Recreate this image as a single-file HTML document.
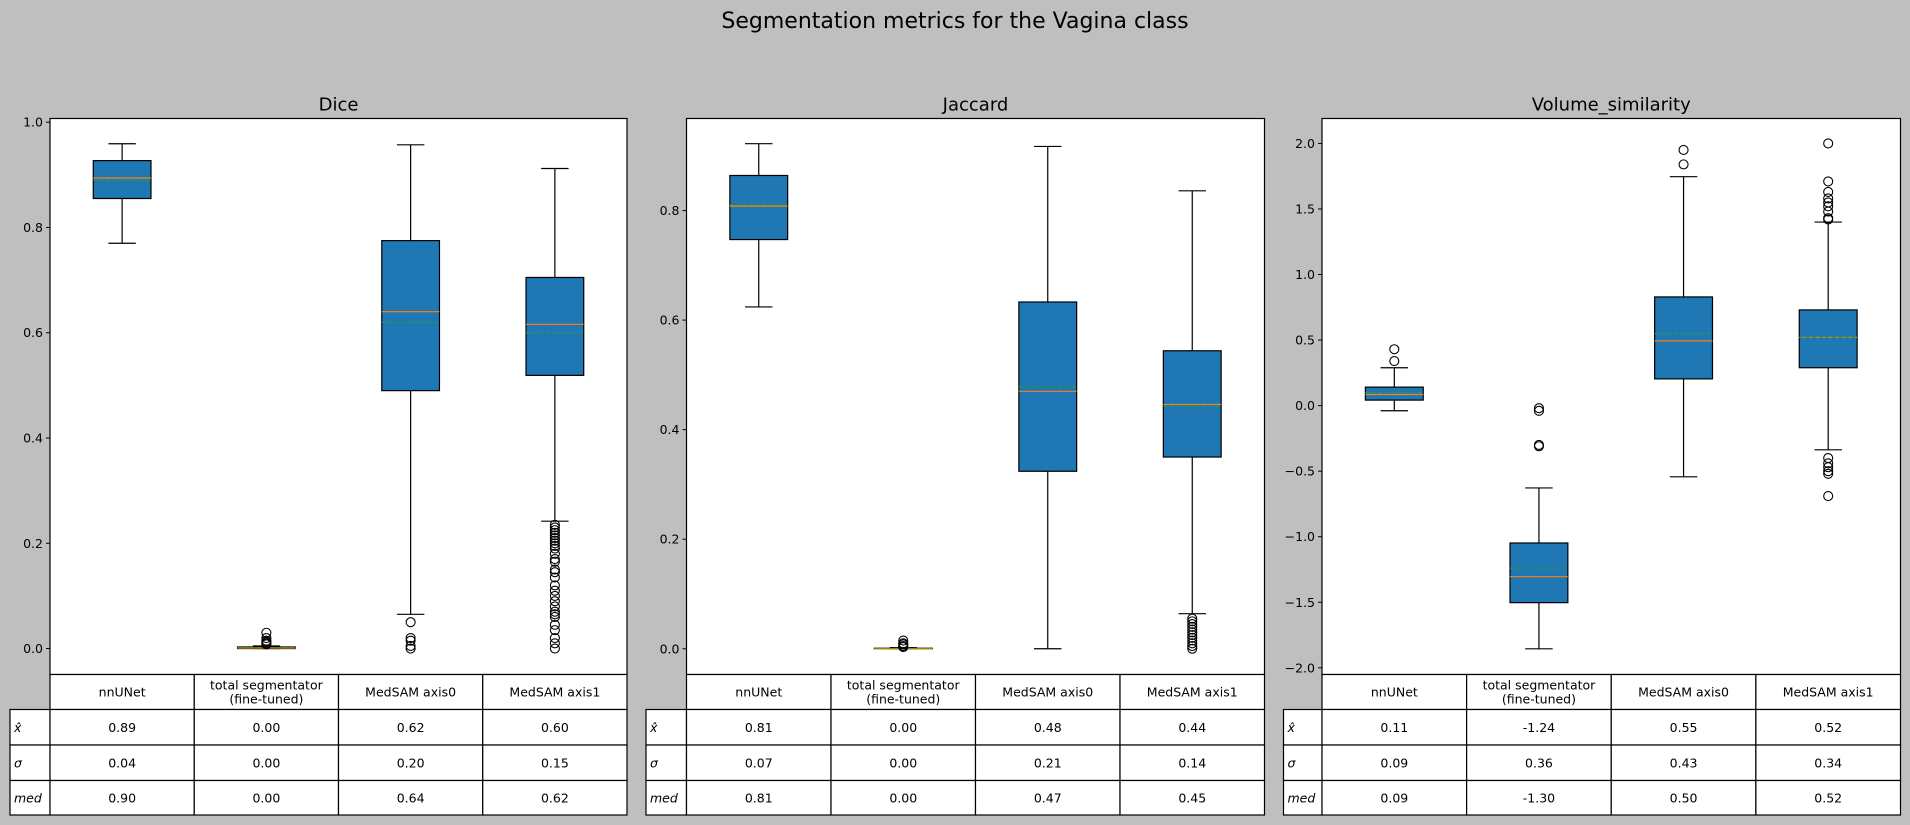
<!DOCTYPE html>
<html><head><meta charset="utf-8"><style>
html,body{margin:0;padding:0;background:#bfbfbf;}
svg{display:block;font-family:"DejaVu Sans","Liberation Sans",sans-serif;}
</style></head><body>
<svg id="fig" width="1910" height="825" xmlns="http://www.w3.org/2000/svg">
<rect x="0" y="0" width="1910" height="825" fill="#bfbfbf"/>
<text x="955" y="28" font-size="22" text-anchor="middle" fill="#000">Segmentation metrics for the Vagina class</text>
</svg>
<script>
const categories = ["nnUNet", "total segmentator\n(fine-tuned)", "MedSAM axis0", "MedSAM axis1"];
const panelTitles = ["Dice", "Jaccard", "Volume_similarity"];
// per panel: [lowWhisker, q1, median, q3, highWhisker, mean]
const diceStats = [[0.770,0.855,0.894,0.927,0.959,0.89],[0.0,0.0,0.001,0.003,0.005,0.002],[0.065,0.490,0.640,0.775,0.957,0.62],[0.242,0.519,0.616,0.705,0.912,0.60]];
const diceOutliers = [[],[0.03,0.02,0.015,0.012,0.01,0.008],[0.05,0.02,0.015,0.005,0.0],[0.235,0.23,0.225,0.22,0.215,0.21,0.205,0.2,0.195,0.19,0.18,0.17,0.165,0.15,0.145,0.135,0.12,0.11,0.1,0.09,0.08,0.07,0.065,0.06,0.045,0.035,0.02,0.01,0.0]];
const jacStats = [[0.624,0.747,0.808,0.864,0.922,0.81],[0.0,0.0,0.0,0.001,0.002,0.001],[0.0,0.324,0.470,0.633,0.917,0.478],[0.064,0.350,0.446,0.544,0.836,0.443]];
const jacOutliers = [[],[0.015,0.01,0.008,0.005,0.003],[],[0.055,0.05,0.045,0.04,0.035,0.03,0.025,0.02,0.015,0.01,0.005,0.0]];
const volStats = [[-0.039,0.042,0.085,0.141,0.289,0.10],[-1.855,-1.503,-1.305,-1.048,-0.628,-1.24],[-0.543,0.204,0.494,0.829,1.746,0.55],[-0.337,0.289,0.52,0.730,1.40,0.52]];
const volOutliers = [[0.43,0.34],[-0.02,-0.04,-0.30,-0.31],[1.95,1.84],[2.0,1.71,1.63,1.58,1.55,1.52,1.48,1.43,1.42,-0.40,-0.44,-0.47,-0.50,-0.52,-0.69]];
const diceTicks = [0.0,0.2,0.4,0.6,0.8,1.0];
const jacTicks = [0.0,0.2,0.4,0.6,0.8];
const volTicks = [-2.0,-1.5,-1.0,-0.5,0.0,0.5,1.0,1.5,2.0];
const diceTable = [["0.89","0.00","0.62","0.60"],["0.04","0.00","0.20","0.15"],["0.90","0.00","0.64","0.62"]];
const jacTable = [["0.81","0.00","0.48","0.44"],["0.07","0.00","0.21","0.14"],["0.81","0.00","0.47","0.45"]];
const volTable = [["0.11","-1.24","0.55","0.52"],["0.09","0.36","0.43","0.34"],["0.09","-1.30","0.50","0.52"]];
const rowLabels = ["x̂","σ","med"];

const NS="http://www.w3.org/2000/svg";
const svg=document.getElementById('fig');
function mk(tag,attrs,parent){const e=document.createElementNS(NS,tag);for(const k in attrs)e.setAttribute(k,attrs[k]);(parent||svg).appendChild(e);return e;}

const panels=[
 {name:"dice",left:50,right:627,labLeft:10,ymin:-0.0493,ymax:1.007,stats:diceStats,out:diceOutliers,ticks:diceTicks,table:diceTable,fmt:v=>v.toFixed(1)},
 {name:"jaccard",left:686.5,right:1264.5,labLeft:646,ymin:-0.047,ymax:0.968,stats:jacStats,out:jacOutliers,ticks:jacTicks,table:jacTable,fmt:v=>v.toFixed(1)},
 {name:"volume-similarity",left:1322,right:1900.5,labLeft:1283.5,ymin:-2.051,ymax:2.19,stats:volStats,out:volOutliers,ticks:volTicks,table:volTable,fmt:v=>(v<0?"\u2212":"")+Math.abs(v).toFixed(1)}
];
const TOP=118.5,BOT=674.5;
const rowY=[674.5,709.5,745,780.5,815];

panels.forEach((p,pi)=>{
  const g=mk('g',{});
  
  
  const W=p.right-p.left;
  const y=v=>BOT-(v-p.ymin)/(p.ymax-p.ymin)*(BOT-TOP);
  const x=i=>p.left+(i+0.5)/4*W;
  const unit=W/4;
  const bg=mk('rect',{x:p.left,y:TOP,width:W,height:BOT-TOP,fill:'#fff'},g);
  
  
  const t=mk('text',{x:p.left+W/2,y:TOP-8,'font-size':18,'text-anchor':'middle'},g);
  t.textContent=panelTitles[pi];
  
  
  p.ticks.forEach(v=>{
    const yy=y(v);
    mk('line',{x1:p.left-4,x2:p.left,y1:yy,y2:yy,stroke:'#000','stroke-width':1},g);
    const tl=mk('text',{x:p.left-7,y:yy+4.5,'font-size':12.5,'text-anchor':'end'},g);
    tl.textContent=p.fmt(v);
    
    
  });
  p.stats.forEach((s,i)=>{
    const cx=x(i),bw=unit*0.4,cw=unit*0.19;
    const bx=mk('g',{},g);
    
    
    mk('line',{x1:cx,x2:cx,y1:y(s[0]),y2:y(s[1]),stroke:'#000','stroke-width':1.2},bx);
    mk('line',{x1:cx,x2:cx,y1:y(s[3]),y2:y(s[4]),stroke:'#000','stroke-width':1.2},bx);
    mk('line',{x1:cx-cw/2,x2:cx+cw/2,y1:y(s[0]),y2:y(s[0]),stroke:'#000','stroke-width':1.2},bx);
    mk('line',{x1:cx-cw/2,x2:cx+cw/2,y1:y(s[4]),y2:y(s[4]),stroke:'#000','stroke-width':1.2},bx);
    mk('rect',{x:cx-bw/2,y:y(s[3]),width:bw,height:Math.max(0.5,y(s[1])-y(s[3])),fill:'#1f77b4',stroke:'#000','stroke-width':1.2},bx);
    mk('line',{x1:cx-bw/2,x2:cx+bw/2,y1:y(s[2]),y2:y(s[2]),stroke:'#ff7f0e','stroke-width':1.2},bx);
    mk('line',{x1:cx-bw/2,x2:cx+bw/2,y1:y(s[5]),y2:y(s[5]),stroke:'#2ca02c','stroke-width':1,'stroke-dasharray':'4,2.5'},bx);
    p.out[i].forEach(v=>{
      const c=mk('circle',{cx:cx,cy:y(v),r:4.5,fill:'none',stroke:'#000','stroke-width':1.1},bx);
      
      
    });
  });
  mk('rect',{x:p.left,y:TOP,width:W,height:BOT-TOP,fill:'none',stroke:'#000','stroke-width':1.2},g);
  // table
  const tb=mk('g',{},g);
  
  
  categories.forEach((c,i)=>{
    const cx0=p.left+i*unit;
    mk('rect',{x:cx0,y:rowY[0],width:unit,height:rowY[1]-rowY[0],fill:'#fff',stroke:'#000','stroke-width':1.2},tb);
    const lines=c.split('\n');
    lines.forEach((ln,li)=>{
      const tt=mk('text',{x:cx0+unit/2,y:(rowY[0]+rowY[1])/2+4.5+(li-(lines.length-1)/2)*14,'font-size':12.5,'text-anchor':'middle'},tb);
      tt.textContent=ln;
      
      
    });
  });
  rowLabels.forEach((lab,r)=>{
    const y0=rowY[r+1],y1=rowY[r+2];
    mk('rect',{x:p.labLeft,y:y0,width:p.left-p.labLeft,height:y1-y0,fill:'#fff',stroke:'#000','stroke-width':1.2},tb);
    const lt=mk('text',{x:p.labLeft+4,y:(y0+y1)/2+4.5,'font-size':12.5,'font-style':'italic'},tb);
    lt.textContent=lab;
    
    
    p.table[r].forEach((val,i)=>{
      const cx0=p.left+i*unit;
      mk('rect',{x:cx0,y:y0,width:unit,height:y1-y0,fill:'#fff',stroke:'#000','stroke-width':1.2},tb);
      const vt=mk('text',{x:cx0+unit/2,y:(y0+y1)/2+4.5,'font-size':12.5,'text-anchor':'middle'},tb);
      vt.textContent=val;
      
      
    });
  });
});
</script>
</body></html>
